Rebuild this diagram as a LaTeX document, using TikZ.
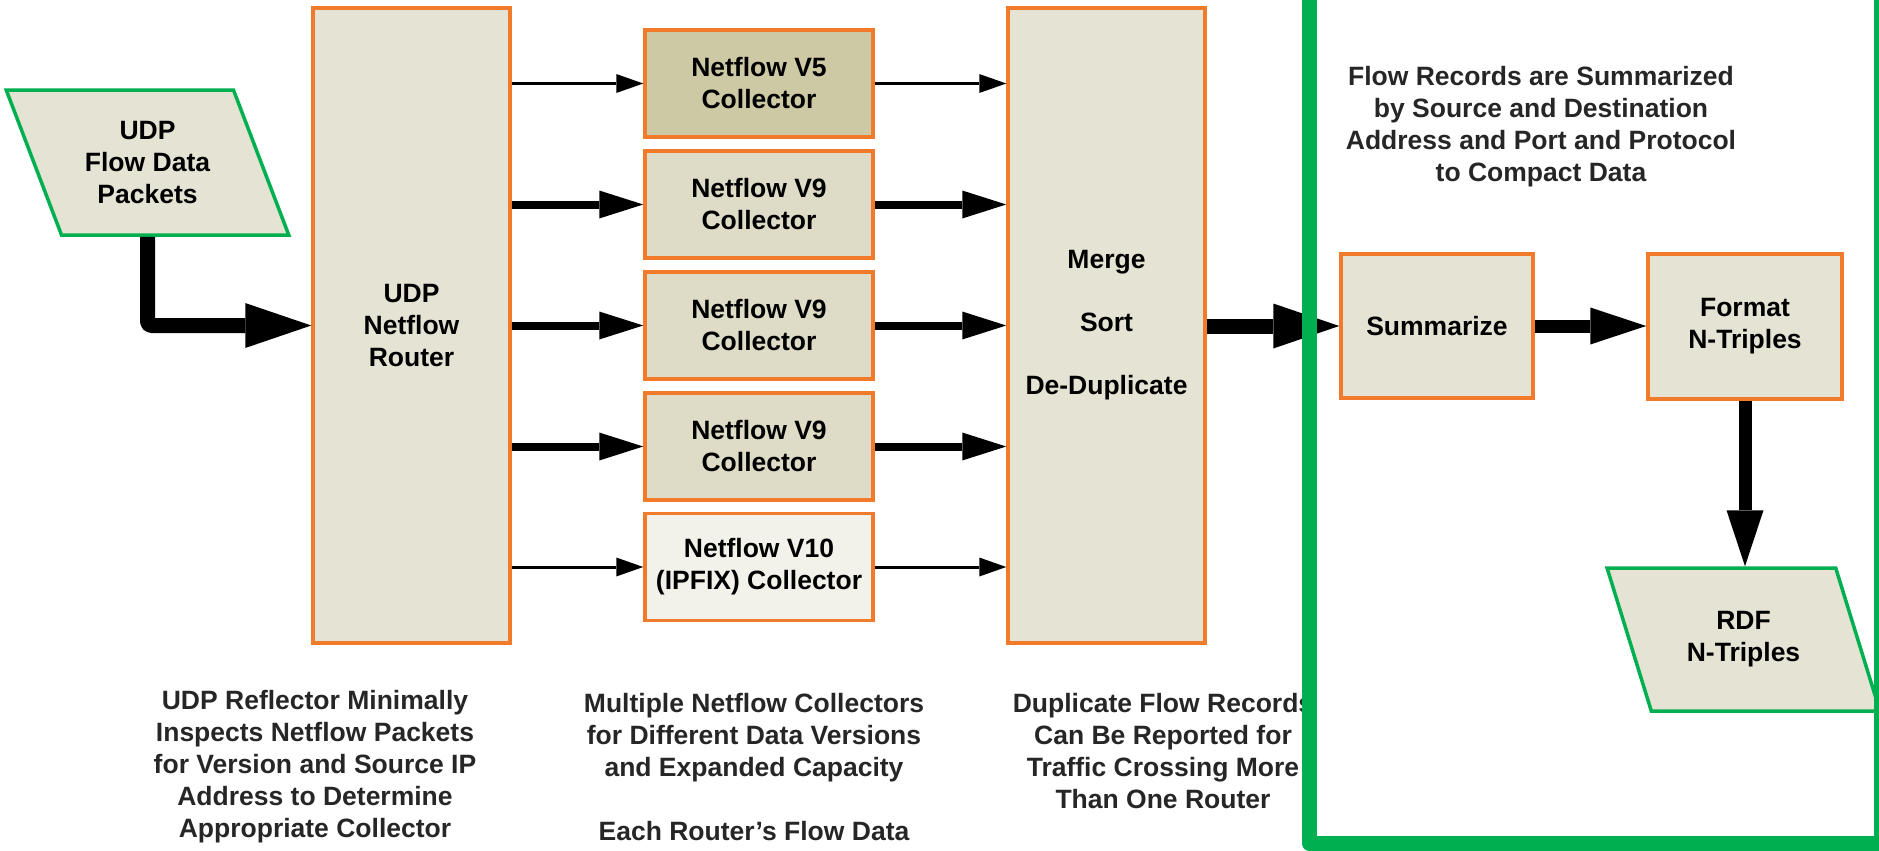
\documentclass[tikz,border=0pt]{standalone}
\usepackage{fontspec}
\setmainfont{Liberation Sans}
\usetikzlibrary{arrows.meta,shapes.geometric}
\definecolor{boxorange}{HTML}{F27A2B}
\definecolor{framegreen}{HTML}{00B050}
\definecolor{procfill}{HTML}{E5E3D3}
\definecolor{vfivefill}{HTML}{CDC9A5}
\definecolor{vninefill}{HTML}{DEDCC6}
\definecolor{vtenfill}{HTML}{F2F1EA}
\definecolor{notegray}{HTML}{262626}

\begin{document}
\begin{tikzpicture}[x=1bp,y=-1bp,
  lbl/.style={font=\fontsize{26.5bp}{32bp}\selectfont\bfseries, align=center},
  procbox/.style={lbl, rectangle, draw=boxorange, line width=3.5bp, fill=procfill, inner sep=0pt},
  collbox/.style={procbox, minimum width=228bp, minimum height=107bp},
  iobox/.style={lbl, trapezium, trapezium stretches=true,
    trapezium left angle=116, trapezium right angle=64,
    draw=framegreen, line width=3.5bp, fill=procfill, inner sep=0pt},
  note/.style={lbl, text=notegray, inner sep=0pt},
  thinlink/.style={line width=3bp, -{Triangle[length=27bp,width=19bp,line width=0pt]}},
  thicklink/.style={line width=8bp, -{Triangle[length=44bp,width=28bp,line width=0pt]}},
  midlink/.style={line width=13bp, -{Triangle[length=56bp,width=37bp,line width=0pt]}},
  biglink/.style={line width=15bp, -{Triangle[length=66bp,width=45bp,line width=0pt]}},
]
\useasboundingbox (0,0) rectangle (1879,851);

% input and routing
\node[iobox, minimum width=283bp, minimum height=145bp] (udp) at (147.5,162.5) {UDP\\Flow Data\\Packets};
\node[procbox, minimum width=197bp, minimum height=635bp] (router) at (411.5,325.5) {UDP\\Netflow\\Router};

% collectors
\node[collbox, fill=vfivefill] (c5)  at (759,83.5)  {Netflow V5\\Collector};
\node[collbox, fill=vninefill] (c9a) at (759,204.5) {Netflow V9\\Collector};
\node[collbox, fill=vninefill] (c9b) at (759,325.5) {Netflow V9\\Collector};
\node[collbox, fill=vninefill] (c9c) at (759,446.5) {Netflow V9\\Collector};
\node[collbox, fill=vtenfill]  (c10) at (759,567)   {Netflow V10\\(IPFIX) Collector};

% merge and output stages
\node[procbox, minimum width=197bp, minimum height=635bp] (merge) at (1106.5,325.5) {Merge\\[31bp]Sort\\[31bp]De-Duplicate};
\node[procbox, minimum width=192bp, minimum height=144bp] (summ) at (1437,326) {Summarize};
\node[procbox, minimum width=194bp, minimum height=145bp] (fmt) at (1745,326.5) {Format\\N-Triples};
\node[iobox, minimum width=273bp, minimum height=143bp] (rdf) at (1743.5,639.5) {RDF\\N-Triples};

% connectors
\draw[biglink, line join=round, rounded corners=4bp] (udp.center |- udp.bottom side) |- (router.west);

\draw[thinlink]  (router.east |- c5.west)  -- (c5.west);
\draw[thicklink] (router.east |- c9a.west) -- (c9a.west);
\draw[thicklink] (router.east |- c9b.west) -- (c9b.west);
\draw[thicklink] (router.east |- c9c.west) -- (c9c.west);
\draw[thinlink]  (router.east |- c10.west) -- (c10.west);

\draw[thinlink]  (c5.east)  -- (merge.west |- c5.east);
\draw[thicklink] (c9a.east) -- (merge.west |- c9a.east);
\draw[thicklink] (c9b.east) -- (merge.west |- c9b.east);
\draw[thicklink] (c9c.east) -- (merge.west |- c9c.east);
\draw[thinlink]  (c10.east) -- (merge.west |- c10.east);

\draw[biglink] (merge.east |- summ.west) -- (summ.west);
\draw[midlink] (summ.east) -- (summ.east -| fmt.west);
\draw[midlink] (fmt.south) -- (fmt.south |- rdf.top side);

% annotations
\node[note] (notea) at (315,767) {UDP Reflector Minimally\\Inspects Netflow Packets\\for Version and Source IP\\Address to Determine\\Appropriate Collector};
\node[note] (noteb) at (754,767) {Multiple Netflow Collectors\\for Different Data Versions\\and Expanded Capacity\\[32bp]Each Router’s Flow Data};
\node[note] (notec) at (1163,751) {Duplicate Flow Records\\Can Be Reported for\\Traffic Crossing More\\Than One Router};
\node[note] (noted) at (1541,127) {Flow Records are Summarized\\by Source and Destination\\Address and Port and Protocol\\to Compact Data};

% summarization frame
\draw[framegreen, line width=15bp, line join=round] (1309,-30) rectangle (1881,843);
\end{tikzpicture}
\end{document}
